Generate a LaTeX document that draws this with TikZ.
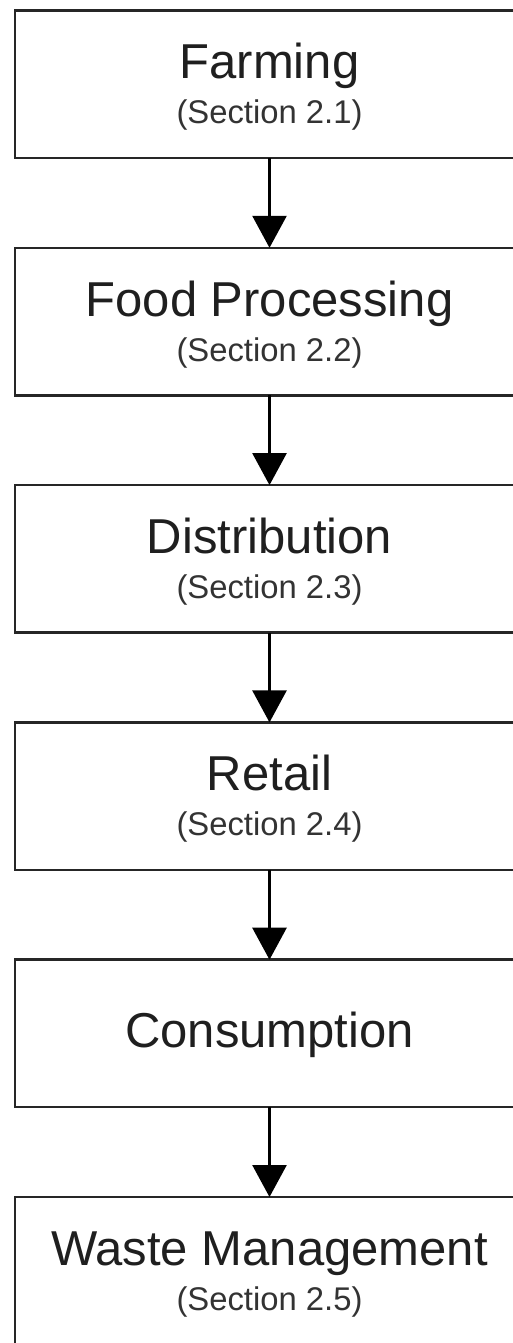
\documentclass[tikz,border=0pt]{standalone}
\usepackage{fontspec}
\setmainfont{Liberation Sans}
\usetikzlibrary{arrows.meta}
\tikzset{
  stagebox/.style={draw=black!85, line width=2.5pt, rectangle, minimum width=509pt,
    minimum height=147.5pt, inner sep=0pt, outer sep=0pt, fill=white},
  maintext/.style={anchor=base, inner sep=0pt, text=black!88, font=\fontsize{49}{56}\selectfont},
  subtext/.style={anchor=base, inner sep=0pt, text=black!80, font=\fontsize{32.8}{38}\selectfont},
  flowarrow/.style={draw=black, line width=2.6pt, -{Triangle[length=32pt,width=34pt]}}
}
\begin{document}
\begin{tikzpicture}[x=1pt,y=-1pt]
\useasboundingbox (0,0) rectangle (513,1343);
\clip (0,0) rectangle (513,1343);
\fill[white] (0,0) rectangle (513,1343);
% boxes (top y = 10.5 + 237.3 k)
\node[stagebox] (b1) at (269.5, 84.25) {};
\node[stagebox] (b2) at (269.5, 321.55) {};
\node[stagebox] (b3) at (269.5, 558.85) {};
\node[stagebox] (b4) at (269.5, 796.15) {};
\node[stagebox] (b5) at (269.5, 1033.45) {};
\node[stagebox] (b6) at (269.5, 1270.75) {};
% texts
\node[maintext] (m1) at (269.5, 79) {Farming};
\node[subtext]  (s1) at (269.5, 124) {(Section 2.1)};
\node[maintext] (m2) at (269.5, 316.3) {Food Processing};
\node[subtext]  (s2) at (269.5, 361.3) {(Section 2.2)};
\node[maintext] (m3) at (269.5, 553.6) {Distribution};
\node[subtext]  (s3) at (269.5, 598.6) {(Section 2.3)};
\node[maintext] (m4) at (269.5, 790.9) {Retail};
\node[subtext]  (s4) at (269.5, 835.9) {(Section 2.4)};
\node[maintext] (m5) at (269.5, 1047.7) {Consumption};
\node[maintext] (m6) at (269.5, 1265.5) {Waste Management};
\node[subtext]  (s6) at (269.5, 1310.5) {(Section 2.5)};
% arrows
\draw[flowarrow] (b1.south) -- (b2.north);
\draw[flowarrow] (b2.south) -- (b3.north);
\draw[flowarrow] (b3.south) -- (b4.north);
\draw[flowarrow] (b4.south) -- (b5.north);
\draw[flowarrow] (b5.south) -- (b6.north);
\end{tikzpicture}
\end{document}
